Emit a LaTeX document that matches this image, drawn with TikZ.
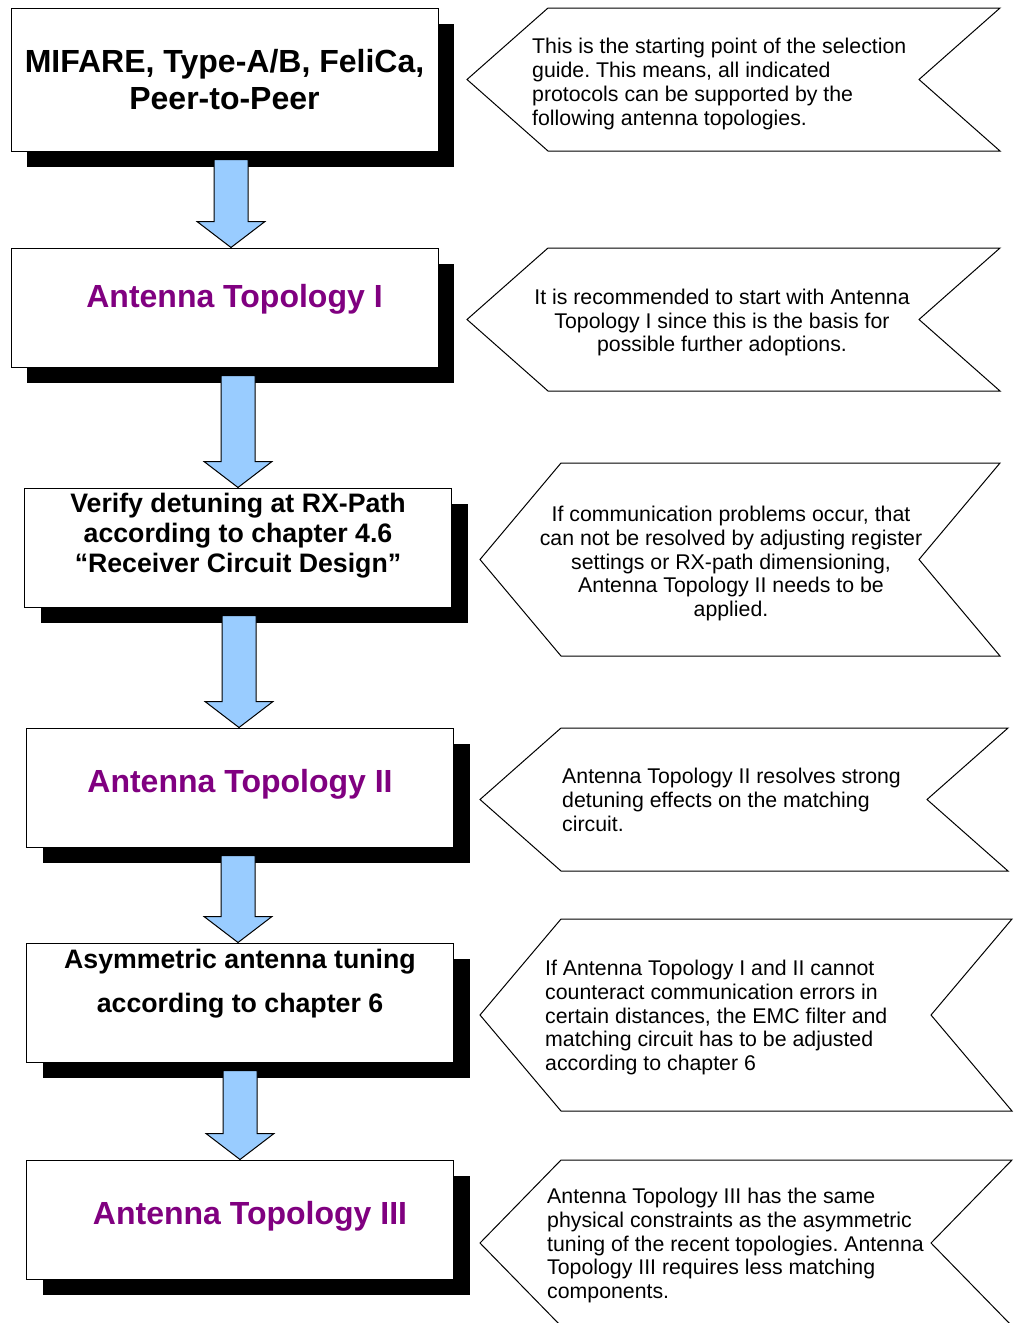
\documentclass[tikz,border=0pt]{standalone}
\usepackage{fontspec}
\setmainfont{Liberation Sans}
\usetikzlibrary{positioning,calc,shadows}

\definecolor{topopurple}{HTML}{800080}
\definecolor{arrowblue}{HTML}{99CCFF}

\tikzset{
  box/.style={draw, rectangle, line width=1pt, fill=white, minimum width=427pt, minimum height=119pt,
    inner sep=2pt, align=center, font=\bfseries\fontsize{26.7}{30}\selectfont,
    drop shadow={shadow xshift=16pt, shadow yshift=-16pt, fill=black, opacity=1}},
  topo/.style={box, text=topopurple, font=\bfseries\fontsize{32}{37}\selectfont, text height=22pt, text depth=22pt},
  note/.style={inner sep=0pt, font=\fontsize{21.3}{23.8}\selectfont},
  noteline/.style={draw, line width=1pt, line join=miter},
  blockarrow/.style={draw, fill=arrowblue, line width=1pt, line join=miter}
}

% block arrow from box #1 down to box #2, centred at x=#3
\newcommand{\flowarrow}[3]{%
  \draw[blockarrow] let \p1=(#1.south), \p2=(#2.north) in
    (#3pt-17pt,\y1-8pt) -- (#3pt+17pt,\y1-8pt) -- (#3pt+17pt,\y2+26pt) -- (#3pt+34pt,\y2+26pt)
    -- (#3pt,\y2) -- (#3pt-34pt,\y2+26pt) -- (#3pt-17pt,\y2+26pt) -- cycle;}

% note outline: tip x, right x, top y, bottom y
\newcommand{\notearrow}[4]{%
  \draw[noteline] (#1,{(#3+#4)/2}) -- (#1+81,#3) -- (#2,#3) -- (#2-81,{(#3+#4)/2})
    -- (#2,#4) -- (#1+81,#4) -- cycle;}

\begin{document}
\frenchspacing
\begin{tikzpicture}[x=1pt, y=-1pt]
\useasboundingbox (0,0) rectangle (1017,1323);
\clip (0,0) rectangle (1017,1323);

% 协议
\node[box, minimum height=143pt, font=\bfseries\fontsize{32}{37}\selectfont] (protocols) at (224.5,79.5) {
MIFARE, Type-A/B, FeliCa,\\
Peer-to-Peer
};

% Topology I
\node[topo, below=96pt of protocols] (topoI) {\hspace*{20pt}Antenna Topology I};

% RX-Path
\node[box, below=120pt of topoI, xshift=13.5pt] (rxpath) {
Verify detuning at RX-Path\\
according to chapter 4.6\\
“Receiver Circuit Design”\\
\mbox{}
};

% Topology II
\node[topo, below=120pt of rxpath, xshift=2pt, text height=32pt] (topoII) {Antenna Topology II};

% asymmetric tuning
\node[box, below=95pt of topoII, font=\bfseries\fontsize{26.7}{44}\selectfont] (asym) {
Asymmetric antenna tuning\\
according to chapter 6\\
\mbox{}
};

% Topology III
\node[topo, below=97pt of asym, text height=32pt] (topoIII) {\hspace*{20pt}Antenna Topology III};

% arrows
\flowarrow{protocols}{topoI}{231}
\flowarrow{topoI}{rxpath}{238}
\flowarrow{rxpath}{topoII}{239}
\flowarrow{topoII}{asym}{238}
\flowarrow{asym}{topoIII}{240}

% notes
\notearrow{467}{1000}{8}{151}
\notearrow{467}{1000}{248}{391}
\notearrow{480}{1000}{463}{656}
\notearrow{480}{1008}{728}{871}
\notearrow{480}{1012}{919}{1111}
\notearrow{480}{1012}{1160}{1326}

\node[note, anchor=west, align=left] (note1) at (532,84) {
This is the starting point of the selection\\
guide. This means, all indicated\\
protocols can be supported by the\\
following antenna topologies.
};
\node[note, align=center] (note2) at (722,322.5) {
It is recommended to start with Antenna\\
Topology I since this is the basis for\\
possible further adoptions.
};
\node[note, align=center] (note3) at (731,563.5) {
If communication problems occur, that\\
can not be resolved by adjusting register\\
settings or RX-path dimensioning,\\
Antenna Topology II needs to be\\
applied.
};
\node[note, anchor=west, align=left] (note4) at (562,800) {
Antenna Topology II resolves strong\\
detuning effects on the matching\\
circuit.
};
\node[note, anchor=west, align=left] (note5) at (545,1017.5) {
If Antenna Topology I and II cannot\\
counteract communication errors in\\
certain distances, the EMC filter and\\
matching circuit has to be adjusted\\
according to chapter 6
};
\node[note, anchor=west, align=left] (note6) at (547,1245.5) {
Antenna Topology III has the same\\
physical constraints as the asymmetric\\
tuning of the recent topologies. Antenna\\
Topology III requires less matching\\
components.
};
\end{tikzpicture}
\end{document}
